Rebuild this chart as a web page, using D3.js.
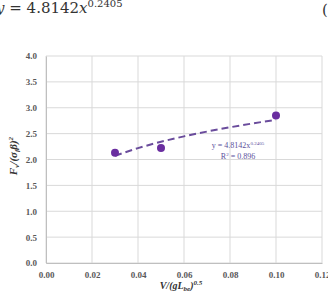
<!DOCTYPE html>
<html>
<head>
<meta charset="utf-8">
<script src="https://cdn.jsdelivr.net/npm/d3@7"></script>
<style>
body { margin: 0; background: #fff; }
svg { display: block; }
</style>
</head>
<body>
<svg id="chart" width="328" height="296"></svg>
<script>
// measured points
var xValues = [0.03, 0.05, 0.10];
var yValues = [2.13, 2.22, 2.85];

// power trendline y = a x^b, as printed on the chart
var trendA = 4.8142;
var trendB = 0.2405;
var trendX = [0.03, 0.04, 0.05, 0.06, 0.07, 0.08, 0.09, 0.10];

var xTicks = [0, 0.02, 0.04, 0.06, 0.08, 0.10, 0.12];
var yTicks = [0, 0.5, 1.0, 1.5, 2.0, 2.5, 3.0, 3.5, 4.0];

var svg = d3.select("#chart");
var plotLeft = 46, plotRight = 322, plotTop = 56, plotBottom = 263;

var x = d3.scaleLinear().domain([0, 0.12]).range([plotLeft, plotRight]);
var y = d3.scaleLinear().domain([0, 4]).range([plotBottom, plotTop]);

// equation caption above the figure (cropped, like the source)
var cap = svg.append("text")
    .attr("x", -4)
    .attr("y", 13)
    .style("font-family", "'DejaVu Serif', serif")
    .style("font-size", "15px")
    .attr("fill", "#333");
cap.append("tspan").style("font-style", "italic").text("y");
cap.append("tspan").text(" = 4.8142");
cap.append("tspan").style("font-style", "italic").text("x");
cap.append("tspan").attr("dy", -6).style("font-size", "10px").text("0.2405");
svg.append("text")
    .attr("x", 322)
    .attr("y", 15)
    .style("font-family", "'DejaVu Serif', serif")
    .style("font-size", "15px")
    .attr("fill", "#333")
    .text("(");

// grid
svg.append("g")
    .selectAll("line")
    .data(xTicks)
    .join("line")
    .attr("x1", d => x(d))
    .attr("x2", d => x(d))
    .attr("y1", plotTop)
    .attr("y2", plotBottom)
    .attr("stroke", "#d9d9d9");
svg.append("g")
    .selectAll("line")
    .data(yTicks)
    .join("line")
    .attr("x1", plotLeft)
    .attr("x2", plotRight)
    .attr("y1", d => y(d))
    .attr("y2", d => y(d))
    .attr("stroke", "#d9d9d9");

// axes
var xAxis = svg.append("g")
    .attr("transform", "translate(0," + plotBottom + ")")
    .call(d3.axisBottom(x).tickValues(xTicks).tickFormat(d3.format(".2f")).tickSize(0).tickPadding(9));
var yAxis = svg.append("g")
    .attr("transform", "translate(" + plotLeft + ",0)")
    .call(d3.axisLeft(y).tickValues(yTicks).tickFormat(d3.format(".1f")).tickSize(0).tickPadding(9));
[xAxis, yAxis].forEach(a => {
    a.select(".domain").attr("stroke", "#bfbfbf");
    a.selectAll("text")
        .style("font-family", "'Liberation Serif', serif")
        .style("font-weight", "bold")
        .style("font-size", "9px")
        .attr("fill", "#595959");
});

// trendline
var line = d3.line()
    .x(d => x(d))
    .y(d => y(trendA * Math.pow(d, trendB)))
    .curve(d3.curveMonotoneX);
svg.append("path")
    .datum(trendX)
    .attr("d", line)
    .attr("fill", "none")
    .attr("stroke", "#6a4c9c")
    .attr("stroke-width", 2)
    .attr("stroke-dasharray", "7,4");

// points
svg.append("g")
    .selectAll("circle")
    .data(xValues)
    .join("circle")
    .attr("cx", d => x(d))
    .attr("cy", (d, i) => y(yValues[i]))
    .attr("r", 4)
    .attr("fill", "#6a2ea0");

// trendline label
var lab = svg.append("g")
    .style("font-family", "'Liberation Serif', serif")
    .style("font-size", "8px")
    .attr("fill", "#5b4f9c")
    .attr("text-anchor", "middle");
var l1 = lab.append("text").attr("x", 238).attr("y", 148);
l1.append("tspan").text("y = 4.8142x");
l1.append("tspan").attr("dy", -3).style("font-size", "5px").text("0.2405");
var l2 = lab.append("text").attr("x", 238).attr("y", 159);
l2.append("tspan").text("R");
l2.append("tspan").attr("dy", -3).style("font-size", "5px").text("2");
l2.append("tspan").attr("dy", 3).text(" = 0.896");

// axis titles
var xt = svg.append("text")
    .attr("x", 181)
    .attr("y", 289)
    .attr("text-anchor", "middle")
    .style("font-family", "'Liberation Serif', serif")
    .style("font-weight", "bold")
    .style("font-style", "italic")
    .style("font-size", "10px")
    .attr("fill", "#333");
xt.append("tspan").text("V/(gL");
xt.append("tspan").attr("dy", 2).style("font-size", "7px").text("be");
xt.append("tspan").attr("dy", -2).text(")");
xt.append("tspan").attr("dy", -4).style("font-size", "7px").text("0.5");

var yt = svg.append("text")
    .attr("transform", "translate(17,156) rotate(-90)")
    .attr("text-anchor", "middle")
    .style("font-family", "'Liberation Serif', serif")
    .style("font-weight", "bold")
    .style("font-style", "italic")
    .style("font-size", "11px")
    .attr("fill", "#333");
yt.append("tspan").text("F");
yt.append("tspan").attr("dy", 2).style("font-size", "7px").text("v");
yt.append("tspan").attr("dy", -2).text("/(σ");
yt.append("tspan").attr("dy", 2).style("font-size", "7px").text("f");
yt.append("tspan").attr("dy", -2).text("β)");
yt.append("tspan").attr("dy", -4).style("font-size", "7px").text("2");
</script>
</body>
</html>
